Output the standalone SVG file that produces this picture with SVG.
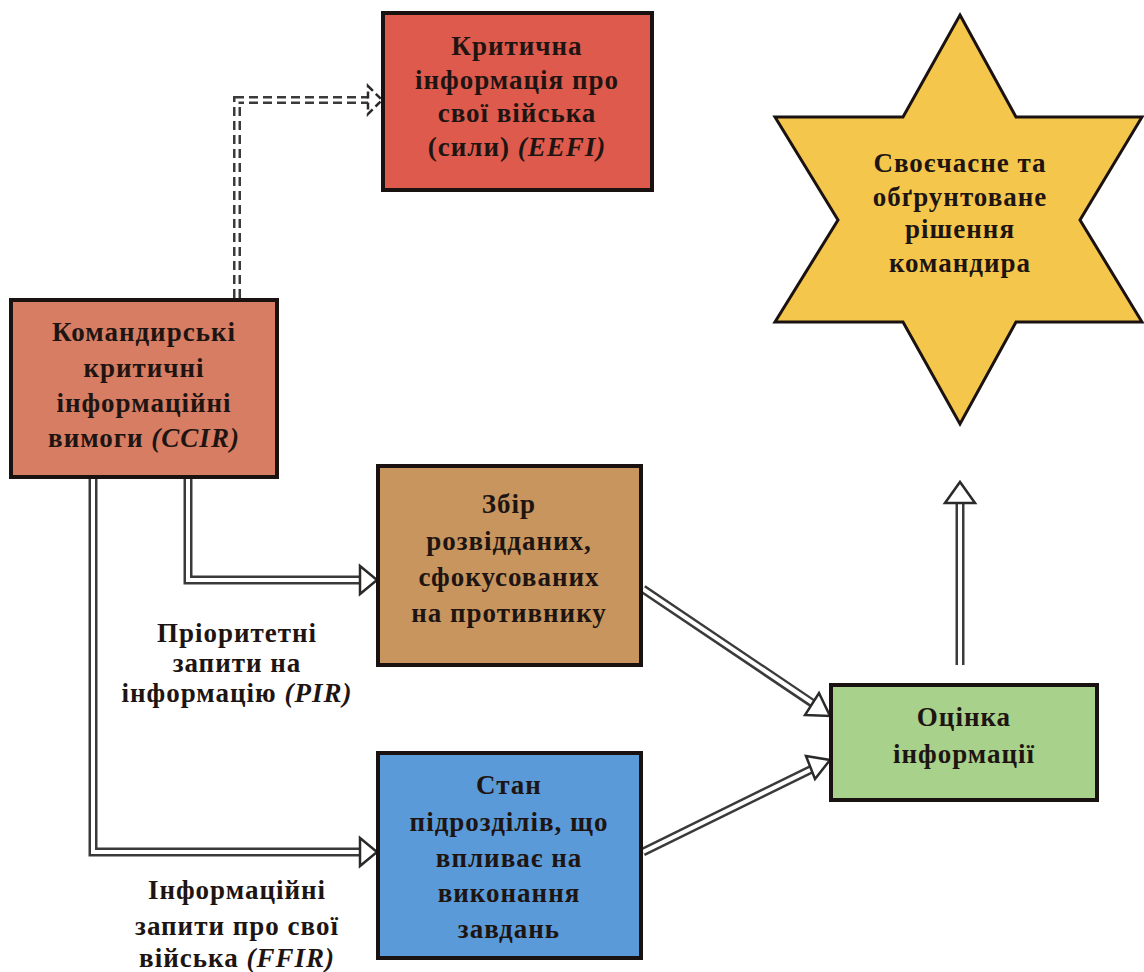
<svg xmlns="http://www.w3.org/2000/svg" width="1144" height="972" viewBox="0 0 1144 972">
<style>
.box{stroke:#1a1210;stroke-width:4}
.t{font-family:"Liberation Serif","Times New Roman",serif;font-weight:bold;font-size:27px;letter-spacing:1px;fill:#1e1512;text-anchor:middle}
.i{font-style:italic}
.outer{fill:none;stroke:#3a3a3a;stroke-width:9}
.inner{fill:none;stroke:#ffffff;stroke-width:4}
.head{fill:#ffffff;stroke:#2a2a2a;stroke-width:2.5;stroke-linejoin:miter}
.douter{fill:none;stroke:#3a3a3a;stroke-width:8;stroke-dasharray:9 5}
.dinner{fill:none;stroke:#ffffff;stroke-width:3}
.dhead{fill:#ffffff;stroke:#2a2a2a;stroke-width:2.5;stroke-dasharray:7 4}
</style>
<rect width="1144" height="972" fill="#ffffff"/>

<g id="connectors">
  <!-- CCIR -> EEFI dashed -->
  <path class="douter" d="M237,298 V100 H370"/>
  <path class="dinner" d="M237,298 V100 H370"/>
  <polygon class="dhead" points="368,86 382,100 368,114"/>
  <!-- CCIR -> Zbir -->
  <path class="outer" d="M188,478 V580 H362"/>
  <path class="inner" d="M188,478 V580 H364"/>
  <polygon class="head" points="360,566 377,580 360,594"/>
  <!-- CCIR -> Stan -->
  <path class="outer" d="M93,478 V852 H362"/>
  <path class="inner" d="M93,478 V852 H364"/>
  <polygon class="head" points="360,838 377,852 360,866"/>
  <!-- Zbir -> Otsinka -->
  <path class="outer" d="M643,589 L812,703"/>
  <path class="inner" d="M643,589 L814,704"/>
  <polygon class="head" points="805,715 830,716 819,693"/>
  <!-- Stan -> Otsinka -->
  <path class="outer" d="M643,852 L812,769"/>
  <path class="inner" d="M643,852 L814,768"/>
  <polygon class="head" points="806,756 830,760 815,779"/>
  <!-- Otsinka -> Star -->
  <path class="outer" d="M960,665 V502"/>
  <path class="inner" d="M960,665 V500"/>
  <polygon class="head" points="945,503 960,482 975,503"/>
</g>

<g id="eefi">
  <rect class="box" x="383" y="13" width="269" height="177" fill="#de5a4c"/>
  <text class="t" x="517" y="55">Критична</text>
  <text class="t" x="517" y="89">інформація про</text>
  <text class="t" x="517" y="122">свої війська</text>
  <text class="t" x="517" y="156">(сили) <tspan class="i">(EEFI)</tspan></text>
</g>

<g id="ccir">
  <rect class="box" x="11" y="300" width="266" height="177" fill="#d67d63"/>
  <text class="t" x="144" y="341">Командирські</text>
  <text class="t" x="144" y="377">критичні</text>
  <text class="t" x="144" y="412">інформаційні</text>
  <text class="t" x="144" y="447">вимоги <tspan class="i">(CCIR)</tspan></text>
</g>

<g id="zbir">
  <rect class="box" x="378" y="466" width="263" height="199" fill="#c8955e"/>
  <text class="t" x="509" y="513">Збір</text>
  <text class="t" x="509" y="550">розвідданих,</text>
  <text class="t" x="509" y="586">сфокусованих</text>
  <text class="t" x="509" y="622">на противнику</text>
</g>

<g id="pir-label">
  <text class="t" x="237" y="642">Пріоритетні</text>
  <text class="t" x="237" y="672">запити на</text>
  <text class="t" x="237" y="702">інформацію <tspan class="i">(PIR)</tspan></text>
</g>

<g id="stan">
  <rect class="box" x="378" y="753" width="263" height="205" fill="#5a9ad8"/>
  <text class="t" x="509" y="794">Стан</text>
  <text class="t" x="509" y="831">підрозділів, що</text>
  <text class="t" x="509" y="867">впливає на</text>
  <text class="t" x="509" y="902">виконання</text>
  <text class="t" x="509" y="938">завдань</text>
</g>

<g id="ffir-label">
  <text class="t" x="237" y="899">Інформаційні</text>
  <text class="t" x="237" y="935">запити про свої</text>
  <text class="t" x="237" y="967">війська <tspan class="i">(FFIR)</tspan></text>
</g>

<g id="otsinka">
  <rect class="box" x="831" y="685" width="266" height="115" fill="#a8d18c"/>
  <text class="t" x="964" y="726">Оцінка</text>
  <text class="t" x="964" y="763">інформації</text>
</g>

<g id="star">
  <polygon points="960,15 1016,117 1142,117 1080,220 1142,322 1016,322 960,424 903,322 775,322 838,220 775,117 903,117" fill="#f5c64c" stroke="#1a1210" stroke-width="3" stroke-linejoin="miter"/>
  <text class="t" x="960" y="172">Своєчасне та</text>
  <text class="t" x="960" y="206">обґрунтоване</text>
  <text class="t" x="960" y="238">рішення</text>
  <text class="t" x="960" y="272">командира</text>
</g>
</svg>
